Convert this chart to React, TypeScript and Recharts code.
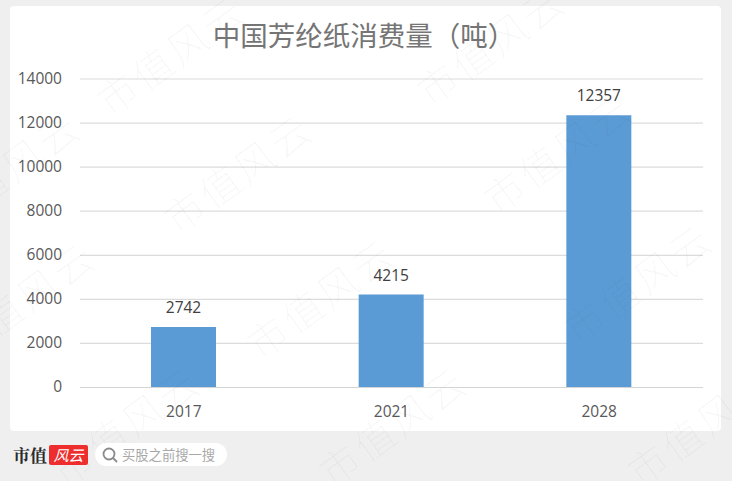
import { BarChart, Bar, XAxis, YAxis, CartesianGrid, LabelList } from "recharts";

const years = ["2017", "2021", "2028"];
const consumption = [2742, 4215, 12357];
const yTicks = [0, 2000, 4000, 6000, 8000, 10000, 12000, 14000];
const titleText = "中国芳纶纸消费量（吨）";
const watermarkText = "市值风云";
const watermarkSpots = [
  [170, 54], [490, 44], [237, 172], [557, 152], [320, 297],
  [637, 282], [5, 170], [20, 300], [125, 425], [392, 425], [700, 425],
];

const data = years.map((year, i) => ({ year, value: consumption[i] }));
const CJK = '"Noto Sans CJK SC", "Noto Sans", sans-serif';

export default function App() {
  return (
    <div
      style={{
        position: "fixed",
        left: 0,
        top: 0,
        width: 732,
        height: 481,
        background: "#efefef",
        overflow: "hidden",
        fontFamily: CJK,
      }}
    >
      <div
        style={{
          position: "absolute",
          left: 10,
          top: 6,
          width: 711,
          height: 425,
          background: "#fff",
          borderRadius: 4,
        }}
      />
      <div
        style={{
          position: "absolute",
          left: 0,
          width: 728,
          top: 15,
          textAlign: "center",
          fontSize: 27.5,
          lineHeight: "38px",
          color: "#757575",
        }}
      >
        {titleText}
      </div>
      <div style={{ position: "absolute", left: 0, top: 0 }}>
        <BarChart
          width={732}
          height={481}
          data={data}
          barSize={65}
          margin={{ top: 79, right: 29, bottom: 63.5, left: 0 }}
        >
          <CartesianGrid vertical={false} stroke="#dcdcdc" strokeWidth={1.2} />
          <XAxis
            dataKey="year"
            axisLine={{ stroke: "#d4d4d4", strokeWidth: 1.2 }}
            tickLine={false}
            tickMargin={12}
            tick={{ fontSize: 15.5, fill: "#595959", fontFamily: "Open Sans" }}
          />
          <YAxis
            width={80}
            domain={[0, 14000]}
            ticks={yTicks}
            axisLine={false}
            tickLine={false}
            tickSize={0}
            tickMargin={18}
            tick={{ fontSize: 15.5, fill: "#595959", fontFamily: "Open Sans", dy: -1 }}
          />
          <Bar dataKey="value" fill="#5b9bd5" isAnimationActive={false}>
            <LabelList
              dataKey="value"
              position="top"
              offset={14}
              style={{ fontSize: 15.5, fill: "#404040", fontFamily: "Open Sans" }}
            />
          </Bar>
        </BarChart>
      </div>
      {watermarkSpots.map(([x, y], i) => (
        <div
          key={i}
          style={{
            position: "absolute",
            left: x - 90,
            top: y - 25,
            width: 180,
            height: 50,
            lineHeight: "50px",
            textAlign: "center",
            fontSize: 40,
            letterSpacing: 3,
            fontWeight: 300,
            color: "rgba(0,0,0,0.03)",
            transform: "rotate(-36deg)",
            whiteSpace: "nowrap",
          }}
        >
          {watermarkText}
        </div>
      ))}
      <div
        style={{
          position: "absolute",
          left: 13,
          top: 443,
          fontSize: 17,
          lineHeight: "24px",
          fontWeight: 700,
          fontFamily: '"Noto Serif CJK SC", "Noto Sans CJK SC", serif',
          color: "#2b2b2b",
        }}
      >
        市值
      </div>
      <div
        style={{
          position: "absolute",
          left: 49,
          top: 445,
          width: 39,
          height: 20,
          background: "#ee2d2d",
          borderRadius: 2,
          color: "#fff",
          fontSize: 15,
          lineHeight: "20px",
          textAlign: "center",
          fontStyle: "italic",
        }}
      >
        风云
      </div>
      <div
        style={{
          position: "absolute",
          left: 95,
          top: 443,
          width: 132,
          height: 23,
          background: "#fff",
          borderRadius: 12,
        }}
      >
        <svg width={18} height={18} style={{ position: "absolute", left: 6, top: 3 }}>
          <circle cx={8} cy={8} r={5.5} fill="none" stroke="#8a8a8a" strokeWidth={1.8} />
          <line x1={12} y1={12} x2={16} y2={16} stroke="#8a8a8a" strokeWidth={1.8} />
        </svg>
        <span
          style={{
            position: "absolute",
            left: 27,
            top: 0,
            fontSize: 13.3,
            lineHeight: "23px",
            color: "#a8a8a8",
            whiteSpace: "nowrap",
          }}
        >
          买股之前搜一搜
        </span>
      </div>
    </div>
  );
}
